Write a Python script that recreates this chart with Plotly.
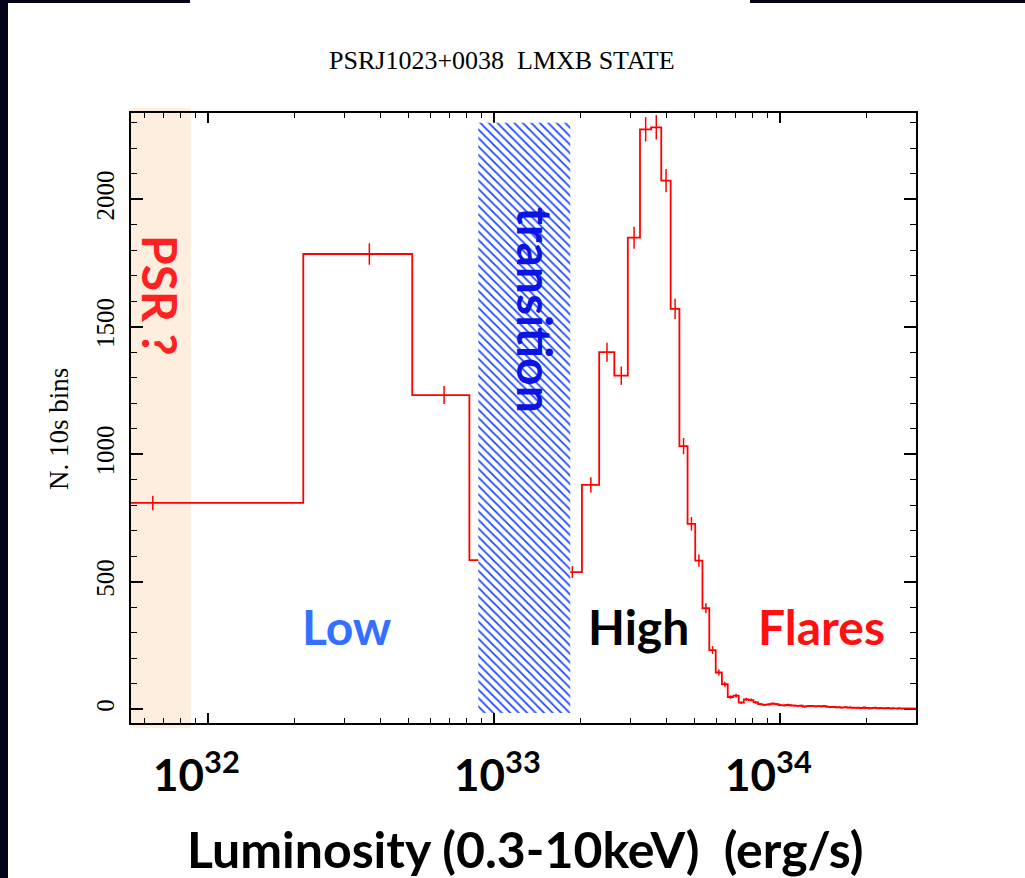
import numpy as np
import plotly.graph_objects as go

# ---------------- data ----------------
TITLE = "PSRJ1023+0038\u00a0\u00a0LMXB STATE"
Y_TITLE = "N. 10s bins"
X_TITLE = "Luminosity (0.3-10keV)\u00a0\u00a0(erg/s)"

# histogram binning in luminosity (erg/s): constant linear bin width
BIN_WIDTH = 3.02e32
FIRST_EDGE = -0.87e32

# counts per bin (N. of 10 s bins)
COUNTS = [809, 1785, 1232, 585, 520, 480, 538, 880, 1400, 1308,
          1849, 2274, 2282, 2073, 1570, 1032, 727, 583, 396, 232,
          144, 98, 48, 53, 26, 39, 36, 27, 20, 17,
          19, 22, 20, 16, 15, 17, 15, 14, 13, 14,
          10, 12, 13, 12, 11, 12, 11, 13, 10, 9,
          8, 9, 7, 8, 6, 7, 8, 6, 7, 5,
          6, 5, 6, 4, 5, 7, 4, 5, 3, 4,
          5, 6, 4, 3, 5, 4, 3, 4, 3, 5,
          3, 2, 4, 3, 3, 2, 4, 3, 2, 3,
          2, 3, 2, 3, 2, 2, 3, 2, 2, 3,
          2, 3, 2]

PSR_RANGE_HI = 8.7e31                  # upper luminosity of "PSR ?" band
TRANSITION_RANGE = [8.8e32, 1.845e33]  # luminosity range of hatched band
TRANSITION_Y = [-15, 2300]

X_TICKS = [1e32, 1e33, 1e34]
X_TICK_TEXT = ["10<sup>32</sup>", "10<sup>33</sup>", "10<sup>34</sup>"]
X_TICK_SHIFT = [-12, 3, -12]
Y_TICKS = [0, 500, 1000, 1500, 2000]

REGION_LABELS = ["Low", "High", "Flares"]
REGION_COLORS = ["#3370ff", "#000000", "#ff1010"]
REGION_XPX = [347, 638, 821]

X_RANGE_LOG = [31.73, 34.475]
Y_RANGE = [-54, 2338]

# ---------------- geometry ----------------
W, H = 1025, 878
ML, MR, MT, MB = 131, 109, 113, 155
PW, PH = W - ML - MR, H - MT - MB


def px(xp):
    return (xp - ML) / PW


def py(yp):
    return (H - MB - yp) / PH


counts = np.array(COUNTS, dtype=float)
n = len(counts)
edges = FIRST_EDGE + BIN_WIDTH * np.arange(n + 1)
centers = 0.5 * (edges[:-1] + edges[1:])
step_x = np.clip(edges, 1e30, None)
step_y = np.append(counts, counts[-1])

RED = "#ff0000"

fig = go.Figure()

# step histogram
fig.add_trace(go.Scatter(x=step_x, y=step_y, mode="lines", line_shape="hv",
                         line=dict(color=RED, width=1.8, simplify=False),
                         cliponaxis=True, hoverinfo="skip", showlegend=False))
# Poisson error bars at bin centres
fig.add_trace(go.Scatter(x=centers, y=counts, mode="markers",
                         marker=dict(size=1, color=RED),
                         error_y=dict(type="data", array=np.sqrt(counts),
                                      color=RED, thickness=1.5, width=0),
                         showlegend=False, hoverinfo="skip"))
# hatched transition region
tx0, tx1 = TRANSITION_RANGE
ty0, ty1 = TRANSITION_Y
fig.add_trace(go.Scatter(x=[tx0, tx1, tx1, tx0, tx0], y=[ty0, ty0, ty1, ty1, ty0],
                         mode="lines", line=dict(width=0), fill="toself",
                         fillcolor="white",
                         fillpattern=dict(shape="\\", fgcolor="#1e48ff", bgcolor="white",
                                          size=6, solidity=0.3, fillmode="replace"),
                         showlegend=False, hoverinfo="skip"))

shapes = [
    # PSR band
    dict(type="rect", xref="x", yref="paper", x0=10 ** X_RANGE_LOG[0], x1=PSR_RANGE_HI,
         y0=py(728), y1=py(108), fillcolor="#fdeedf", line=dict(width=0), layer="below"),
    # dark slide frame pieces
    dict(type="rect", xref="paper", yref="paper", x0=px(0), x1=px(8), y0=py(H), y1=py(0),
         fillcolor="#03031a", line=dict(width=0), layer="above"),
    dict(type="rect", xref="paper", yref="paper", x0=px(0), x1=px(190), y0=py(3), y1=py(0),
         fillcolor="#03031a", line=dict(width=0), layer="above"),
    dict(type="rect", xref="paper", yref="paper", x0=px(750), x1=px(W), y0=py(3), y1=py(0),
         fillcolor="#03031a", line=dict(width=0), layer="above"),
]

C = dict(xanchor="center", yanchor="middle", showarrow=False)
annotations = [
    dict(text=TITLE, xref="paper", yref="paper", x=px(502), y=py(61), **C,
         font=dict(family="Liberation Serif", size=26, color="black")),
    dict(text=Y_TITLE, xref="paper", yref="paper", x=px(59), y=py(429), **C,
         textangle=-90, font=dict(family="Liberation Serif", size=27, color="black")),
    dict(text=X_TITLE, xref="paper", yref="paper", x=px(525), y=py(849), **C,
         font=dict(family="Lato", size=50, color="black", weight=700)),
    dict(text="PSR ?", xref="paper", yref="paper", x=px(161), y=py(295), **C,
         textangle=90, font=dict(family="Lato", size=48, color="#ff2020", weight=700)),
    dict(text="transition", xref="paper", yref="paper", x=px(536), y=py(310), **C,
         textangle=90, font=dict(family="Lato", size=48, color="#0a14e6", weight=700)),
]
for lab, col, xp in zip(REGION_LABELS, REGION_COLORS, REGION_XPX):
    annotations.append(dict(text=lab, xref="paper", yref="paper", x=px(xp), y=py(626), **C,
                            font=dict(family="Lato", size=48, color=col, weight=700)))
for v, t, s in zip(X_TICKS, X_TICK_TEXT, X_TICK_SHIFT):
    annotations.append(dict(text=t, xref="x", yref="paper", x=np.log10(v), y=py(772),
                            xshift=s, **C,
                            font=dict(family="Lato", size=44, color="black", weight=700)))

fig.update_layout(
    width=W, height=H, margin=dict(l=ML, r=MR, t=MT, b=MB),
    paper_bgcolor="white", plot_bgcolor="white",
    shapes=shapes, annotations=annotations,
    xaxis=dict(type="log", range=X_RANGE_LOG, showgrid=False, zeroline=False,
               layer="below traces",
               showline=True, linecolor="black", linewidth=2, mirror="ticks",
               ticks="inside", ticklen=10, tickwidth=1.5, tickcolor="black",
               tickvals=X_TICKS, showticklabels=False,
               minor=dict(ticks="inside", ticklen=5, tickwidth=1.2, tickcolor="black",
                          dtick="D1", showgrid=False)),
    yaxis=dict(range=Y_RANGE, showgrid=False, zeroline=False,
               layer="below traces",
               showline=True, linecolor="black", linewidth=2, mirror="ticks",
               ticks="inside", ticklen=12, tickwidth=1.5, tickcolor="black",
               tickvals=Y_TICKS, tickangle=-90, ticklabelstandoff=5,
               tickfont=dict(family="Liberation Serif", size=25, color="black"),
               minor=dict(ticks="inside", ticklen=6, tickwidth=1.2, tickcolor="black",
                          dtick=100, showgrid=False)),
)

fig.write_html("out.html", config={"displayModeBar": False},
               post_script="document.body.style.margin='0';document.body.style.padding='0';")
